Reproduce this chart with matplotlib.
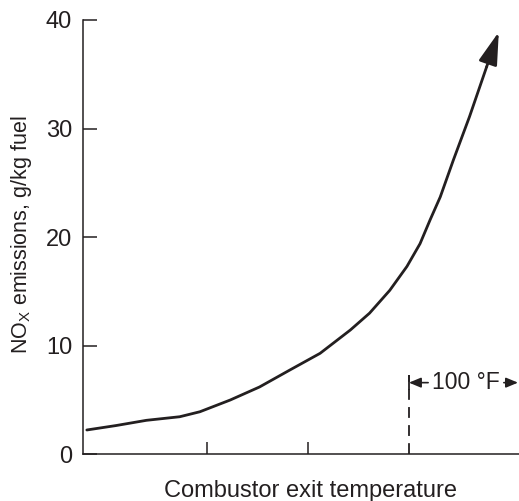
import numpy as np
import matplotlib
matplotlib.use("Agg")
import matplotlib.pyplot as plt

plt.rcParams["font.family"] = ["Liberation Sans", "DejaVu Sans"]
plt.rcParams["mathtext.fontset"] = "custom"
plt.rcParams["mathtext.rm"] = "Liberation Sans"

# curve (x in approx. degF, y in g/kg fuel)
temp = [81, 110, 140, 173, 193, 223, 252, 282, 312, 342, 361, 381,
        398, 411, 421, 431, 444, 460, 477, 489]
nox = [2.24, 2.65, 3.13, 3.46, 3.92, 5.0, 6.2, 7.76, 9.3, 11.45, 13.0, 15.1,
       17.3, 19.4, 21.6, 23.7, 27.1, 31.1, 35.7, 38.9]

y_ticks = [0, 10, 20, 30, 40]
x_ticks = [200, 300]
marker_x = 400
span = 108

ink = "#231f20"

fig = plt.figure(figsize=(5.19, 5.01), dpi=100)
ax = fig.add_axes([0.1605, 0.0932, 0.8395, 0.8669])

ax.plot(temp[:-1], nox[:-1], color=ink, lw=2.0, solid_capstyle="round",
        solid_joinstyle="round")
ax.annotate("", xy=(temp[-1], nox[-1]), xytext=(temp[-2], nox[-2]),
            arrowprops=dict(arrowstyle="-|>,head_length=1.0,head_width=0.29",
                            mutation_scale=20, color=ink, lw=2.0,
                            shrinkA=0, shrinkB=0))

# dashed marker and 100 F bracket
ax.vlines(marker_x, 0, 7.3, colors=ink, lw=1.3, linestyles=(0, (6, 4)))
ax.vlines(marker_x, 5.9, 7.3, colors=ink, lw=1.3)
ax.annotate("", xy=(marker_x, 6.6), xytext=(marker_x + 19, 6.6),
            arrowprops=dict(arrowstyle="-|>,head_length=0.6,head_width=0.25",
                            mutation_scale=12, color=ink, lw=1.2,
                            shrinkA=0, shrinkB=0))
ax.annotate("", xy=(marker_x + span, 6.6), xytext=(marker_x + span - 14, 6.6),
            arrowprops=dict(arrowstyle="-|>,head_length=0.6,head_width=0.25",
                            mutation_scale=12, color=ink, lw=1.2,
                            shrinkA=0, shrinkB=0), annotation_clip=False)
ax.text(marker_x + 56, 6.6, "100 °F", ha="center", va="center",
        fontsize=16.5, color=ink)

ax.set_xlim(77.5, 509)
ax.set_ylim(0, 40)
ax.set_yticks(y_ticks)
ax.set_xticks(x_ticks)
ax.set_xticklabels([])
ax.tick_params(axis="y", direction="in", length=10, width=1.1, pad=8,
               labelsize=17, colors=ink)
ax.tick_params(axis="x", direction="in", length=8.5, width=1.1, colors=ink)
for s in ["top", "right"]:
    ax.spines[s].set_visible(False)
for s in ["left", "bottom"]:
    ax.spines[s].set_linewidth(1.1)
    ax.spines[s].set_color(ink)

fig.text(22 / 519, 1 - 235 / 501,
         r"NO$_\mathregular{X}$ emissions, g/kg fuel",
         rotation=90, ha="center", va="center", fontsize=15.5, color=ink)
fig.text(311 / 519, 1 - 496.5 / 501, "Combustor exit temperature",
         ha="center", va="baseline", fontsize=17, color=ink)

fig.savefig("out.png", dpi=100)
